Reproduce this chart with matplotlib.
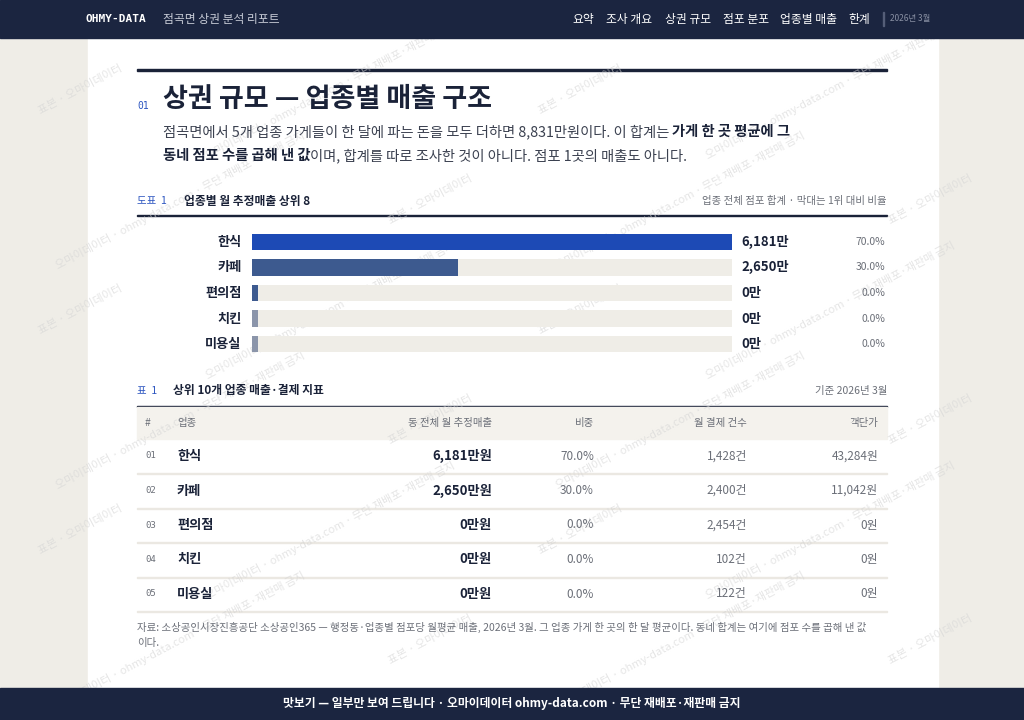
import matplotlib
matplotlib.use("Agg")
import matplotlib.pyplot as plt
from matplotlib.patches import Rectangle

plt.rcParams['font.family'] = ['Noto Sans CJK KR', 'DejaVu Sans']

W, H = 1024, 720
NAVY = '#1b2540'
INK = '#1a2238'
GREY = '#6b6f78'

categories = ['한식', '카페', '편의점', '치킨', '미용실']
sales = [6181, 2650, 0, 0, 0]          # 만원
share = [70.0, 30.0, 0.0, 0.0, 0.0]
payments = [1428, 2400, 2454, 102, 122]
unit_price = [43284, 11042, 0, 0, 0]
bar_colors = ['#1d4ab5', '#3d5a8f', '#3d5a8f', '#8b95aa', '#8b95aa']
nav_items = ['요약', '조사 개요', '상권 규모', '점포 분포', '업종별 매출', '한계']
nav_x = [583, 629, 688, 746, 808, 859]

fig = plt.figure(figsize=(W / 100, H / 100), dpi=100)
fig.patch.set_facecolor('#efede7')
renderer = fig.canvas.get_renderer()


def Y(y):
    return 1 - y / H


def X(x):
    return x / W


def txt(x, y, s, **kw):
    kw.setdefault('va', 'center')
    kw.setdefault('color', INK)
    kw.setdefault('zorder', 3)
    return fig.text(X(x), Y(y), s, **kw)


def runs(x, y, parts, fontsize):
    # parts: list of (text, bold)
    for s, bold in parts:
        t = txt(x, y, s, fontsize=fontsize, weight='bold' if bold else 'normal',
                color=INK if bold else '#3b4150')
        x += t.get_window_extent(renderer).width


def rect(x, y, w, h, color, z=0):
    fig.patches.append(Rectangle((X(x), Y(y + h)), w / W, h / H, transform=fig.transFigure,
                                 color=color, zorder=z))


# page + bars
rect(88, 38, 850, 650, 'white')

# watermarks
marks = ['표본 · 오마이데이터', '오마이데이터 · ohmy-data.com · 무단 재배포·재판매 금지']
for r in range(6):
    for c in range(4):
        s = marks[(r + c) % 2]
        txt(80 + c * 250 + (r % 2) * 100, 90 + r * 110, s, fontsize=8, color='#d4d4d4',
            rotation=28, alpha=0.6, zorder=1, ha='center')

rect(0, 0, W, 38, NAVY, 2)
rect(0, 688, W, 32, NAVY, 2)

txt(85, 19, 'OHMY-DATA', fontsize=8, color='white', weight='bold', family='DejaVu Sans Mono')
txt(163, 19, '점곡면 상권 분석 리포트', fontsize=8.5, color='#c9cdd8')
for nx, item in zip(nav_x, nav_items):
    txt(nx, 19, item, fontsize=8.5, color='white', ha='center')
rect(883, 12, 1, 14, '#555e78', 3)
txt(890, 19, '2026년 3월', fontsize=6, color='#8990a3')

# section title
rect(137, 69, 750, 2, INK)
txt(137, 106, '01', fontsize=7, color='#2c55c0', family='DejaVu Sans Mono')
txt(163, 99, '상권 규모 — 업종별 매출 구조', fontsize=19.5, weight='bold')
runs(163, 132, [('점곡면에서 5개 업종 가게들이 한 달에 파는 돈을 모두 더하면 8,831만원이다. 이 합계는 ', False),
                ('가게 한 곳 평균에 그', True)], 10.3)
runs(163, 156, [('동네 점포 수를 곱해 낸 값', True),
                ('이며, 합계를 따로 조사한 것이 아니다. 점포 1곳의 매출도 아니다.', False)], 10.3)

# figure 1 header
txt(137, 201, '도표  1', fontsize=7.5, color='#2c55c0')
txt(184, 201, '업종별 월 추정매출 상위 8', fontsize=8.5, weight='bold')
txt(887, 201, '업종 전체 점포 합계 · 막대는 1위 대비 비율', fontsize=7.5, color=GREY, ha='right')
rect(137, 215, 750, 1, INK)

# bar chart
ax = fig.add_axes([X(252), Y(357), (732 - 252) / W, (357 - 229) / H], zorder=4)
ax.patch.set_alpha(0)
ymax = max(sales)
pos = list(range(len(categories)))
ax.barh(pos, [ymax] * len(pos), height=0.64, color='#efede7')
ax.barh(pos, [max(v, ymax * 0.012) for v in sales], height=0.64, color=bar_colors)
ax.set_xlim(0, ymax)
ax.set_ylim(len(pos) - 0.5, -0.5)
ax.axis('off')
for i, c in enumerate(categories):
    ax.text(-ymax * 0.022, i, c, ha='right', va='center', fontsize=9.5, weight='bold', color=INK)
    ax.text(ymax * 1.02, i, f'{sales[i]:,}만', ha='left', va='center', fontsize=9.5, weight='bold', color=INK)
    ax.text(ymax * 1.32, i, f'{share[i]:.1f}%', ha='right', va='center', fontsize=7.5, color=GREY)

# table
txt(137, 391, '표  1', fontsize=7.5, color='#2c55c0')
txt(173, 391, '상위 10개 업종 매출·결제 지표', fontsize=8.5, weight='bold')
txt(887, 391, '기준 2026년 3월', fontsize=7.5, color=GREY, ha='right')
rect(137, 406, 750, 1, INK)
rect(137, 407, 750, 32, '#f4f2ed')
heads = [(145, '#', 'left'), (177, '업종', 'left'), (492, '동 전체 월 추정매출', 'right'),
         (594, '비중', 'right'), (747, '월 결제 건수', 'right'), (878, '객단가', 'right')]
for hx, h, ha in heads:
    txt(hx, 423, h, fontsize=7.5, color=GREY, ha=ha)
for i, c in enumerate(categories):
    yy = 456 + i * 34.5
    txt(145, yy, f'{i + 1:02d}', fontsize=6.5, color=GREY, family='DejaVu Sans Mono')
    txt(177, yy, c, fontsize=9.5, weight='bold')
    txt(492, yy, f'{sales[i]:,}만원', fontsize=9.5, weight='bold', ha='right')
    txt(594, yy, f'{share[i]:.1f}%', fontsize=8.5, color=GREY, ha='right')
    txt(747, yy, f'{payments[i]:,}건', fontsize=8.5, color=GREY, ha='right')
    txt(878, yy, f'{unit_price[i]:,}원', fontsize=8.5, color=GREY, ha='right')
    rect(137, yy + 17, 750, 1, '#ebe8e2')

txt(137, 627, '자료: 소상공인시장진흥공단 소상공인365 — 행정동·업종별 점포당 월평균 매출, 2026년 3월. 그 업종 가게 한 곳의 한 달 평균이다. 동네 합계는 여기에 점포 수를 곱해 낸 값',
    fontsize=7.5, color=GREY)
txt(137, 643, '이다.', fontsize=7.5, color=GREY)

txt(512, 704, '맛보기 — 일부만 보여 드립니다 · 오마이데이터 ohmy-data.com · 무단 재배포·재판매 금지',
    fontsize=8.5, color='white', weight='bold', ha='center')

fig.savefig('out.png', dpi=100)
